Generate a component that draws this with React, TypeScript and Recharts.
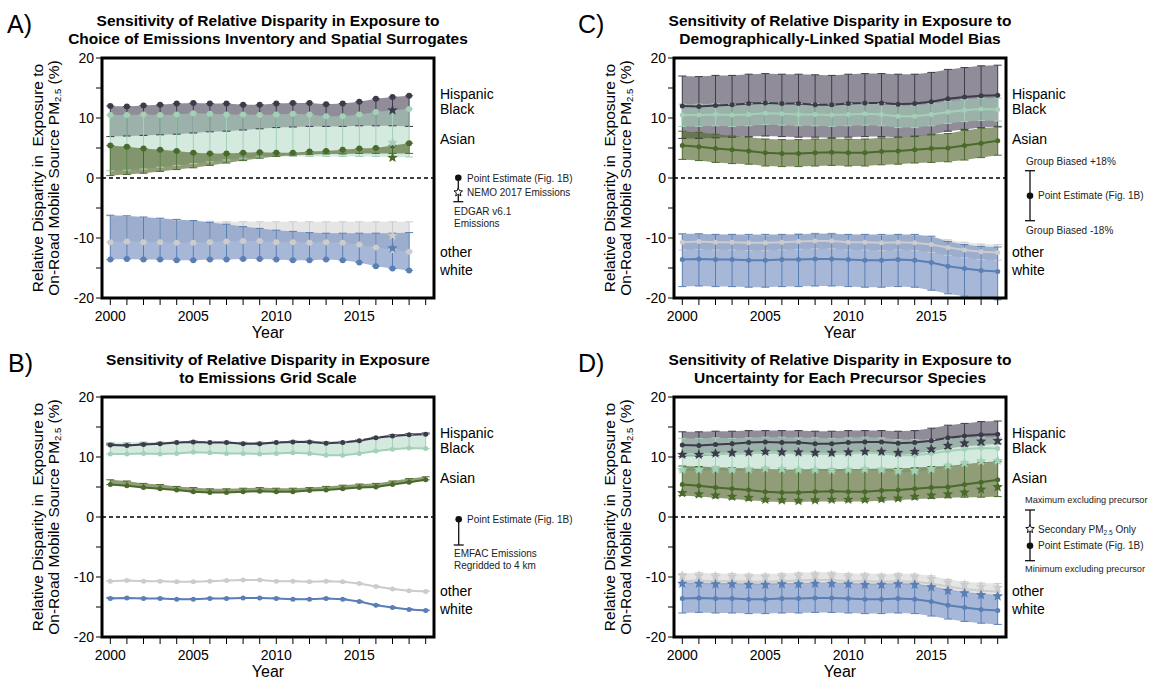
import React from 'react';
import { ComposedChart, Area, Line, Scatter, ErrorBar, XAxis, YAxis, ReferenceLine } from 'recharts';

const years = [2000, 2001, 2002, 2003, 2004, 2005, 2006, 2007, 2008, 2009, 2010, 2011, 2012, 2013, 2014, 2015, 2016, 2017, 2018, 2019];

// point estimates (Fig. 1B)
const hispanic = [12.0, 11.9, 12.1, 12.2, 12.4, 12.5, 12.4, 12.4, 12.2, 12.2, 12.4, 12.5, 12.5, 12.3, 12.4, 12.7, 13.2, 13.5, 13.7, 13.8];
const black = [10.5, 10.5, 10.6, 10.5, 10.6, 10.8, 10.7, 10.6, 10.6, 10.5, 10.6, 10.7, 10.6, 10.3, 10.3, 10.6, 11.0, 11.3, 11.5, 11.4];
const asian = [5.4, 5.2, 4.9, 4.7, 4.5, 4.2, 4.1, 4.1, 4.2, 4.3, 4.2, 4.2, 4.4, 4.5, 4.7, 4.9, 5.0, 5.4, 5.8, 6.2];
const other = [-10.7, -10.6, -10.7, -10.7, -10.8, -10.8, -10.7, -10.6, -10.5, -10.5, -10.7, -10.7, -10.8, -10.7, -10.8, -11.1, -11.6, -12.0, -12.3, -12.4];
const white = [-13.6, -13.5, -13.6, -13.6, -13.7, -13.7, -13.6, -13.6, -13.5, -13.5, -13.6, -13.7, -13.7, -13.6, -13.7, -14.1, -14.7, -15.1, -15.4, -15.6];

// A) EDGAR v6.1 emissions, 2000-2018
const hispanicEdgar = [6.9, 7.0, 7.1, 7.2, 7.3, 7.5, 7.7, 7.8, 8.0, 8.2, 8.4, 8.5, 8.6, 8.6, 8.6, 8.7, 8.7, 8.7, 8.6];
const blackEdgar = [1.2, 1.3, 1.5, 1.8, 2.1, 2.4, 2.7, 3.0, 3.3, 3.5, 3.6, 3.6, 3.6, 3.6, 3.6, 3.6, 3.6, 3.5, 3.5];
const asianEdgar = [0.4, 0.6, 0.8, 1.1, 1.4, 1.7, 2.1, 2.5, 2.9, 3.3, 3.6, 3.8, 3.9, 4.0, 4.0, 4.1, 4.1, 4.1, 4.1];
const otherEdgar = [-6.3, -6.4, -6.6, -6.8, -7.0, -7.1, -7.2, -7.3, -7.3, -7.3, -7.3, -7.3, -7.3, -7.3, -7.3, -7.3, -7.3, -7.3, -7.3];
const whiteEdgar = [-6.2, -6.3, -6.5, -6.7, -6.9, -7.1, -7.4, -7.7, -8.1, -8.4, -8.7, -8.9, -9.1, -9.2, -9.2, -9.2, -9.2, -9.2, -9.1];
// A) NEMO 2017 emissions
const nemoYear = 2017;
const nemo = [11.3, 5.9, 3.4, -9.6, -11.7];

// B) EMFAC emissions regridded to 4 km
const hispanicEmfac = [12.2, 12.1, 12.3, 12.4, 12.6, 12.7, 12.6, 12.6, 12.4, 12.4, 12.6, 12.7, 12.7, 12.5, 12.6, 12.9, 13.4, 13.7, 13.9, 14.0];
const blackEmfac = [12.4, 12.4, 12.5, 12.5, 12.6, 12.7, 12.6, 12.6, 12.5, 12.5, 12.6, 12.7, 12.7, 12.5, 12.5, 12.9, 13.4, 13.6, 13.8, 13.8];
const asianEmfac = [6.2, 6.0, 5.6, 5.4, 5.1, 4.9, 4.7, 4.7, 4.8, 4.9, 4.8, 4.8, 4.9, 5.1, 5.3, 5.5, 5.6, 6.0, 6.4, 6.7];
const otherEmfac = [-10.6, -10.5, -10.6, -10.6, -10.7, -10.7, -10.6, -10.5, -10.4, -10.4, -10.6, -10.6, -10.7, -10.6, -10.7, -11.0, -11.5, -11.9, -12.2, -12.3];
const whiteEmfac = [-13.4, -13.4, -13.5, -13.5, -13.6, -13.6, -13.5, -13.5, -13.4, -13.4, -13.5, -13.6, -13.6, -13.5, -13.6, -14.0, -14.6, -15.0, -15.3, -15.5];

// C) group biased +18% / -18%
const hispanicBiasHi = [17.0, 16.9, 17.1, 17.1, 17.3, 17.4, 17.3, 17.3, 17.2, 17.1, 17.3, 17.4, 17.4, 17.3, 17.3, 17.6, 18.1, 18.4, 18.7, 18.8];
const hispanicBiasLo = [6.6, 6.6, 6.7, 6.8, 6.9, 7.0, 6.9, 6.8, 6.8, 6.7, 6.8, 6.9, 6.9, 6.8, 6.9, 7.2, 7.8, 8.1, 8.4, 8.6];
const blackBiasHi = [12.3, 12.3, 12.4, 12.3, 12.4, 12.6, 12.5, 12.4, 12.4, 12.3, 12.4, 12.5, 12.4, 12.1, 12.1, 12.4, 12.8, 13.1, 13.3, 13.3];
const blackBiasLo = [8.6, 8.6, 8.7, 8.6, 8.7, 8.9, 8.8, 8.7, 8.7, 8.6, 8.7, 8.8, 8.7, 8.4, 8.4, 8.7, 9.1, 9.4, 9.6, 9.5];
const asianBiasHi = [7.8, 7.6, 7.3, 7.0, 6.8, 6.5, 6.4, 6.4, 6.5, 6.6, 6.5, 6.5, 6.7, 6.8, 7.0, 7.3, 7.4, 7.9, 8.3, 8.5];
const asianBiasLo = [3.1, 2.9, 2.6, 2.4, 2.3, 2.0, 1.9, 1.9, 2.0, 2.1, 2.0, 2.0, 2.2, 2.3, 2.5, 2.6, 2.7, 3.0, 3.4, 3.8];
const otherBiasHi = [-9.4, -9.3, -9.4, -9.4, -9.5, -9.5, -9.4, -9.3, -9.2, -9.2, -9.4, -9.4, -9.5, -9.4, -9.5, -9.8, -10.3, -10.7, -11.0, -11.1];
const otherBiasLo = [-12.0, -11.9, -12.0, -12.0, -12.1, -12.1, -12.0, -11.9, -11.8, -11.8, -12.0, -12.0, -12.1, -12.0, -12.1, -12.4, -12.9, -13.3, -13.6, -13.7];
const whiteBiasHi = [-9.3, -9.3, -9.4, -9.4, -9.4, -9.4, -9.4, -9.4, -9.3, -9.3, -9.4, -9.4, -9.4, -9.4, -9.4, -9.7, -10.6, -11.1, -11.4, -11.5];
const whiteBiasLo = [-18.1, -18.0, -18.1, -18.1, -18.2, -18.2, -18.1, -18.1, -18.0, -18.0, -18.1, -18.2, -18.2, -18.1, -18.2, -18.7, -19.3, -19.7, -20.0, -20.3];

// D) maximum / minimum excluding precursor, secondary PM2.5 only
const hispanicMax = [14.2, 14.2, 14.3, 14.3, 14.4, 14.4, 14.4, 14.4, 14.3, 14.3, 14.4, 14.4, 14.4, 14.3, 14.4, 14.8, 15.3, 15.6, 15.9, 16.0];
const hispanicMin = [10.1, 10.1, 10.3, 10.4, 10.5, 10.6, 10.5, 10.5, 10.4, 10.4, 10.5, 10.6, 10.6, 10.4, 10.6, 10.9, 11.4, 11.8, 12.0, 12.2];
const hispanicSec = [10.4, 10.4, 10.6, 10.7, 10.8, 10.9, 10.8, 10.8, 10.7, 10.7, 10.8, 10.9, 10.9, 10.7, 10.9, 11.3, 11.9, 12.3, 12.6, 12.7];
const blackMax = [13.1, 13.1, 13.2, 13.1, 13.2, 13.3, 13.3, 13.2, 13.2, 13.1, 13.2, 13.3, 13.2, 12.9, 12.9, 12.9, 13.0, 13.2, 13.3, 13.2];
const blackMin = [7.7, 7.7, 7.8, 7.7, 7.8, 7.9, 7.8, 7.7, 7.7, 7.6, 7.7, 7.8, 7.7, 7.5, 7.5, 7.8, 8.3, 8.7, 9.0, 9.1];
const blackSec = [7.9, 7.9, 8.0, 7.9, 8.0, 8.1, 8.0, 7.9, 7.9, 7.8, 7.9, 8.0, 7.9, 7.7, 7.7, 8.0, 8.6, 9.0, 9.3, 9.4];
const asianMax = [8.5, 8.4, 8.3, 8.2, 8.1, 8.0, 7.9, 7.9, 8.0, 8.0, 8.0, 8.0, 8.1, 8.1, 8.2, 8.4, 8.5, 8.8, 9.1, 9.3];
const asianMin = [3.6, 3.4, 3.2, 3.0, 2.8, 2.6, 2.5, 2.5, 2.6, 2.6, 2.6, 2.6, 2.7, 2.8, 3.0, 3.1, 3.2, 3.3, 3.3, 3.4];
const asianSec = [4.0, 3.8, 3.6, 3.4, 3.2, 2.9, 2.8, 2.7, 2.8, 2.9, 2.9, 2.9, 3.0, 3.1, 3.4, 3.6, 3.8, 4.1, 4.6, 5.0];
const otherMax = [-9.4, -9.3, -9.4, -9.4, -9.5, -9.5, -9.4, -9.3, -9.2, -9.2, -9.4, -9.4, -9.5, -9.4, -9.5, -9.8, -10.4, -10.8, -11.0, -11.1];
const otherMin = [-11.3, -11.2, -11.3, -11.3, -11.4, -11.4, -11.3, -11.2, -11.1, -11.1, -11.3, -11.3, -11.4, -11.3, -11.4, -11.7, -12.3, -12.7, -13.0, -13.1];
const otherSec = [-9.8, -9.8, -9.9, -9.9, -10.0, -10.0, -9.9, -9.8, -9.7, -9.7, -9.9, -9.9, -10.0, -9.9, -10.0, -10.3, -10.9, -11.3, -11.6, -11.8];
const whiteMax = [-10.9, -10.9, -11.0, -11.0, -11.1, -11.1, -11.0, -11.0, -10.9, -10.9, -11.0, -11.1, -11.1, -11.0, -11.1, -11.5, -12.1, -12.5, -12.8, -13.0];
const whiteMin = [-16.0, -15.9, -16.0, -16.0, -16.1, -16.1, -16.0, -16.0, -15.9, -15.9, -16.0, -16.1, -16.1, -16.0, -16.1, -16.5, -17.0, -17.4, -17.7, -17.9];
const whiteSec = [-11.1, -11.1, -11.2, -11.2, -11.3, -11.3, -11.2, -11.2, -11.1, -11.1, -11.2, -11.3, -11.3, -11.2, -11.3, -11.7, -12.3, -12.7, -13.0, -13.2];

const yTicks = [-20, -15, -10, -5, 0, 5, 10, 15, 20];

const FONT = '"Liberation Sans", Arial, Helvetica, sans-serif';
const BOX_W = 332;
const BOX_H = 240;

type Group = { key: string; label: string; color: string; band: string; bandOpacity: number };
const groups: Group[] = [
  { key: 'hisp', label: 'Hispanic', color: '#3d3b4b', band: '#615b6c', bandOpacity: 0.7 },
  { key: 'black', label: 'Black', color: '#a3d1b8', band: '#a9d6be', bandOpacity: 0.5 },
  { key: 'asian', label: 'Asian', color: '#4a6a2b', band: '#56692f', bandOpacity: 0.65 },
  { key: 'other', label: 'other', color: '#cccccc', band: '#d0d0d0', bandOpacity: 0.55 },
  { key: 'white', label: 'white', color: '#5a7fb5', band: '#6f8bbf', bandOpacity: 0.62 },
];
const points = [hispanic, black, asian, other, white];

type Row = Record<string, number | number[]>;
const r2 = (v: number) => Math.round(v * 100) / 100;

// band between point estimate and one alternative estimate (A, B)
function rowsFromAlternative(alt: number[][], n: number): Row[] {
  return years.slice(0, n).map((year, i) => {
    const row: Row = { year };
    groups.forEach((g, k) => {
      const p = points[k][i];
      const a = alt[k][i];
      row[g.key] = p;
      row[g.key + 'Band'] = [Math.min(p, a), Math.max(p, a)];
      row[g.key + 'Err'] = [r2(Math.max(0, p - a)), r2(Math.max(0, a - p))];
    });
    return row;
  });
}

// band between a low and a high estimate (C, D)
function rowsFromRange(lo: number[][], hi: number[][], sec?: number[][]): Row[] {
  return years.map((year, i) => {
    const row: Row = { year };
    groups.forEach((g, k) => {
      const p = points[k][i];
      row[g.key] = p;
      row[g.key + 'Band'] = [lo[k][i], hi[k][i]];
      row[g.key + 'Err'] = [r2(p - lo[k][i]), r2(hi[k][i] - p)];
      if (sec) row[g.key + 'Star'] = sec[k][i];
    });
    return row;
  });
}

const rowsA = rowsFromAlternative([hispanicEdgar, blackEdgar, asianEdgar, otherEdgar, whiteEdgar], 19);
const rowsB = rowsFromAlternative([hispanicEmfac, blackEmfac, asianEmfac, otherEmfac, whiteEmfac], 20);
const rowsC = rowsFromRange(
  [hispanicBiasLo, blackBiasLo, asianBiasLo, otherBiasLo, whiteBiasLo],
  [hispanicBiasHi, blackBiasHi, asianBiasHi, otherBiasHi, whiteBiasHi]
);
const rowsD = rowsFromRange(
  [hispanicMin, blackMin, asianMin, otherMin, whiteMin],
  [hispanicMax, blackMax, asianMax, otherMax, whiteMax],
  [hispanicSec, blackSec, asianSec, otherSec, whiteSec]
);
const nemoRow: Row = { year: nemoYear };
groups.forEach((g, k) => (nemoRow[g.key] = nemo[k]));

function starPath(cx: number, cy: number, R: number, r: number) {
  let d = '';
  for (let i = 0; i < 10; i++) {
    const rad = i % 2 === 0 ? R : r;
    const a = -Math.PI / 2 + (i * Math.PI) / 5;
    d += (i === 0 ? 'M' : 'L') + (cx + rad * Math.cos(a)).toFixed(2) + ',' + (cy + rad * Math.sin(a)).toFixed(2);
  }
  return d + 'Z';
}

type PanelProps = {
  left: number;
  top: number;
  rows: Row[];
  connect: boolean;
  starMode?: 'nemo' | 'all';
};

function Panel({ left, top, rows, connect, starMode }: PanelProps) {
  return (
    <div style={{ position: 'absolute', left: left - 40, top: top - 10 }}>
      <ComposedChart
        width={40 + BOX_W + 10}
        height={10 + BOX_H + 40}
        data={rows}
        margin={{ top: 10, right: 10, bottom: 0, left: 0 }}
      >
        <XAxis
          dataKey="year"
          type="number"
          domain={[1999.5, 2019.5]}
          allowDataOverflow
          ticks={years}
          interval={0}
          tickFormatter={(v: number) => (v % 5 === 0 ? String(v) : '')}
          tickSize={7}
          tickMargin={6}
          axisLine={false}
          tickLine={{ stroke: '#000', strokeWidth: 1 }}
          tick={{ fill: '#000', fontSize: 14, fontFamily: FONT }}
          height={40}
        />
        <YAxis
          type="number"
          domain={[-20, 20]}
          allowDataOverflow
          ticks={yTicks}
          interval={0}
          tickFormatter={(v: number) => (v % 10 === 0 ? String(v) : '')}
          width={40}
          tickSize={6}
          tickMargin={2}
          axisLine={false}
          tickLine={{ stroke: '#000', strokeWidth: 1 }}
          tick={{ fill: '#000', fontSize: 14, fontFamily: FONT }}
        />
        {groups.map((g) => (
          <Area
            key={g.key + 'band'}
            type="linear"
            dataKey={g.key + 'Band'}
            fill={g.band}
            fillOpacity={g.bandOpacity}
            stroke="none"
            dot={false}
            activeDot={false}
            isAnimationActive={false}
          />
        ))}
        <ReferenceLine y={0} stroke="#000" strokeDasharray="4 3" strokeWidth={1.3} />
        {groups.map((g) => (
          <Line
            key={g.key + 'line'}
            type="linear"
            dataKey={g.key}
            stroke={connect ? g.color : 'none'}
            strokeWidth={2}
            dot={{ r: connect ? 2.5 : 3, fill: g.color, stroke: g.color, strokeWidth: 0 }}
            activeDot={false}
            isAnimationActive={false}
          >
            <ErrorBar dataKey={g.key + 'Err'} direction="y" width={4} stroke={g.color} strokeWidth={1} />
          </Line>
        ))}
        {starMode === 'all' &&
          groups.map((g) => (
            <Scatter
              key={g.key + 'star'}
              dataKey={g.key + 'Star'}
              isAnimationActive={false}
              shape={(p: any) => <path d={starPath(p.cx, p.cy, 5.5, 2.4)} fill={g.color} />}
            />
          ))}
        {starMode === 'nemo' &&
          groups.map((g) => (
            <Scatter
              key={g.key + 'nemo'}
              data={[nemoRow]}
              dataKey={g.key}
              isAnimationActive={false}
              shape={(p: any) => <path d={starPath(p.cx, p.cy, 5.5, 2.4)} fill={g.color} />}
            />
          ))}
      </ComposedChart>
    </div>
  );
}

type PanelText = { letter: string; left: number; top: number; title: string[]; letterX: number };
const panelTexts: PanelText[] = [
  { letter: 'A)', left: 102, top: 58, letterX: 7, title: ['Sensitivity of Relative Disparity in Exposure to', 'Choice of Emissions Inventory and Spatial Surrogates'] },
  { letter: 'B)', left: 102, top: 397, letterX: 8, title: ['Sensitivity of Relative Disparity in Exposure', 'to Emissions Grid Scale'] },
  { letter: 'C)', left: 674, top: 58, letterX: 578, title: ['Sensitivity of Relative Disparity in Exposure to', 'Demographically-Linked Spatial Model Bias'] },
  { letter: 'D)', left: 674, top: 397, letterX: 578, title: ['Sensitivity of Relative Disparity in Exposure to', 'Uncertainty for Each Precursor Species'] },
];
const labelOffsets = [36, 50.5, 81, 193.5, 212];

function PanelOverlay({ t }: { t: PanelText }) {
  const cx = t.left + BOX_W / 2;
  const cy = t.top + BOX_H / 2;
  return (
    <g>
      <rect x={t.left} y={t.top} width={BOX_W} height={BOX_H} fill="none" stroke="#000" strokeWidth={3} />
      <text x={t.letterX} y={t.top - 34} fontSize={25} dominantBaseline="central">{t.letter}</text>
      <text x={cx} y={t.top - 37.3} fontSize={15.5} fontWeight="bold" textAnchor="middle" dominantBaseline="central">{t.title[0]}</text>
      <text x={cx} y={t.top - 19.7} fontSize={15.5} fontWeight="bold" textAnchor="middle" dominantBaseline="central">{t.title[1]}</text>
      <text
        transform={`translate(${t.left - 65},${cy}) rotate(-90)`}
        fontSize={15.5}
        textAnchor="middle"
        dominantBaseline="central"
        style={{ whiteSpace: 'pre' }}
      >
        Relative Disparity in  Exposure to
      </text>
      <text transform={`translate(${t.left - 49},${cy}) rotate(-90)`} fontSize={15.5} textAnchor="middle" dominantBaseline="central">
        On-Road Mobile Source PM
        <tspan fontSize={9.5} dy={4}>2.5</tspan>
        <tspan dy={-4}> (%)</tspan>
      </text>
      <text x={cx} y={t.top + BOX_H + 34} fontSize={16} textAnchor="middle" dominantBaseline="central">Year</text>
      {groups.map((g, k) => (
        <text key={g.key} x={t.left + BOX_W + 6} y={t.top + labelOffsets[k]} fontSize={14} dominantBaseline="central">{g.label}</text>
      ))}
    </g>
  );
}

function Cap({ x, y }: { x: number; y: number }) {
  return <line x1={x - 5} x2={x + 5} y1={y} y2={y} stroke="#111" strokeWidth={1.3} />;
}

function Legends() {
  const fs = 10;
  const fill = '#222';
  return (
    <g fontSize={fs} fill={fill}>
      {/* A */}
      <line x1={458.3} x2={458.3} y1={177.7} y2={201.7} stroke="#111" strokeWidth={1.3} />
      <Cap x={458.3} y={201.7} />
      <circle cx={458.3} cy={177.7} r={3.3} fill="#111" />
      <path d={starPath(458.3, 192.3, 4.5, 2)} fill="#fff" stroke="#111" strokeWidth={1} />
      <text x={467} y={178} dominantBaseline="central">Point Estimate (Fig. 1B)</text>
      <text x={467} y={192.5} dominantBaseline="central">NEMO 2017 Emissions</text>
      <text x={454} y={211} dominantBaseline="central">EDGAR v6.1</text>
      <text x={454} y={223} dominantBaseline="central">Emissions</text>
      {/* B */}
      <line x1={458.7} x2={458.7} y1={519.3} y2={545} stroke="#111" strokeWidth={1.3} />
      <Cap x={458.7} y={545} />
      <circle cx={458.7} cy={519.3} r={3.3} fill="#111" />
      <text x={467} y={519.3} dominantBaseline="central">Point Estimate (Fig. 1B)</text>
      <text x={454} y={553.3} dominantBaseline="central">EMFAC Emissions</text>
      <text x={454} y={565} dominantBaseline="central">Regridded to 4 km</text>
      {/* C */}
      <line x1={1030} x2={1030} y1={170.7} y2={220.7} stroke="#111" strokeWidth={1.3} />
      <Cap x={1030} y={170.7} />
      <Cap x={1030} y={220.7} />
      <circle cx={1030} cy={195.7} r={3.3} fill="#111" />
      <text x={1026} y={161} dominantBaseline="central">Group Biased +18%</text>
      <text x={1038} y={195.7} dominantBaseline="central">Point Estimate (Fig. 1B)</text>
      <text x={1026} y={230} dominantBaseline="central">Group Biased -18%</text>
      {/* D */}
      <line x1={1030} x2={1030} y1={510} y2={560.7} stroke="#111" strokeWidth={1.3} />
      <Cap x={1030} y={510} />
      <Cap x={1030} y={560.7} />
      <path d={starPath(1030, 529, 4.5, 2)} fill="#fff" stroke="#111" strokeWidth={1} />
      <circle cx={1030} cy={545.7} r={3.3} fill="#111" />
      <text x={1025} y={500} fontSize={9.2} dominantBaseline="central">Maximum excluding precursor</text>
      <text x={1038} y={529} dominantBaseline="central">
        Secondary PM<tspan fontSize={6.5} dy={2.5}>2.5</tspan><tspan dy={-2.5}> Only</tspan>
      </text>
      <text x={1038} y={545.7} dominantBaseline="central">Point Estimate (Fig. 1B)</text>
      <text x={1025} y={569.3} fontSize={9.2} dominantBaseline="central">Minimum excluding precursor</text>
    </g>
  );
}

export default function App() {
  return (
    <div style={{ position: 'absolute', left: 0, top: 0, width: 1155, height: 678, background: '#fff', fontFamily: FONT, overflow: 'hidden' }}>
      <Panel left={102} top={58} rows={rowsA} connect={false} starMode="nemo" />
      <Panel left={102} top={397} rows={rowsB} connect={true} />
      <Panel left={674} top={58} rows={rowsC} connect={true} />
      <Panel left={674} top={397} rows={rowsD} connect={true} starMode="all" />
      <svg width={1155} height={678} style={{ position: 'absolute', left: 0, top: 0, pointerEvents: 'none' }} fontFamily={FONT}>
        {panelTexts.map((t) => (
          <PanelOverlay key={t.letter} t={t} />
        ))}
        <Legends />
      </svg>
    </div>
  );
}
